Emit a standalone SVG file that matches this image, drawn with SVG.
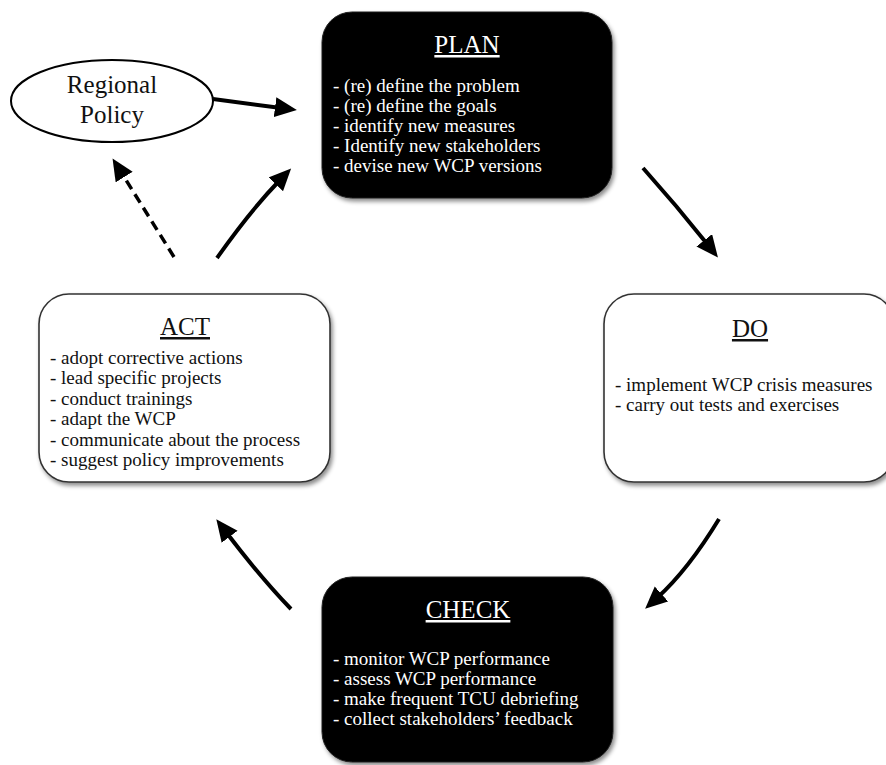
<svg xmlns="http://www.w3.org/2000/svg" width="886" height="765" viewBox="0 0 886 765" font-family="'Liberation Serif', 'Times New Roman', serif">
  <style>
    .title { font-size: 25px; text-anchor: middle; text-decoration: underline; }
    .body { font-size: 19px; }
    .light { fill: #ffffff; }
    .dark { fill: #111111; }
    .box-white { fill: #ffffff; stroke: #333333; stroke-width: 1.6; filter: url(#shadow); }
    .box-black { fill: #000000; stroke: #222222; stroke-width: 1; filter: url(#shadow); }
    .link { fill: none; stroke: #000000; stroke-width: 4; marker-end: url(#head); }
    .dashed { stroke-dasharray: 10 6; stroke-width: 3.5; }
  </style>
  <defs>
    <filter id="shadow" x="-10%" y="-10%" width="125%" height="125%">
      <feDropShadow dx="2" dy="3" stdDeviation="2" flood-color="#000000" flood-opacity="0.45"/>
    </filter>
    <marker id="head" markerUnits="userSpaceOnUse" markerWidth="24" markerHeight="22" refX="6" refY="10" orient="auto">
      <path d="M0,0 L22,10 L0,20 z" fill="#000000"/>
    </marker>
  </defs>

  <!-- connectors -->
  <g id="connectors">
    <path class="link" d="M213,99 L281,108"/>
    <path class="link" d="M217,258 Q250,211 280,180"/>
    <path class="link" d="M643,168 Q677,206 708,245"/>
    <path class="link" d="M719,519 Q688,570 657,598"/>
    <path class="link" d="M291,609 Q261,578 226,532"/>
    <path class="link dashed" d="M174,257 L121,172"/>
  </g>

  <!-- Regional Policy -->
  <g id="regional-policy" font-family="Liberation Serif, serif">
    <ellipse cx="112" cy="101" rx="101" ry="41" fill="#ffffff" stroke="#000000" stroke-width="2"/>
    <text x="112" y="93" font-size="25" text-anchor="middle" class="dark">Regional</text>
    <text x="112" y="123" font-size="25" text-anchor="middle" class="dark">Policy</text>
  </g>

  <!-- PLAN -->
  <g id="plan" font-family="Liberation Serif, serif">
    <rect class="box-black" x="322" y="12" width="290" height="186" rx="30" ry="30"/>
    <text class="title light" x="467" y="53">PLAN</text>
    <text class="body light" x="333" y="92">- (re) define the problem</text>
    <text class="body light" x="333" y="112">- (re) define the goals</text>
    <text class="body light" x="333" y="132">- identify new measures</text>
    <text class="body light" x="333" y="152">- Identify new stakeholders</text>
    <text class="body light" x="333" y="172">- devise new WCP versions</text>
  </g>

  <!-- DO -->
  <g id="do" font-family="Liberation Serif, serif">
    <rect class="box-white" x="604" y="294" width="290" height="188" rx="30" ry="30"/>
    <text class="title dark" x="750" y="337">DO</text>
    <text class="body dark" x="615" y="391">- implement WCP crisis measures</text>
    <text class="body dark" x="615" y="411">- carry out tests and exercises</text>
  </g>

  <!-- CHECK -->
  <g id="check" font-family="Liberation Serif, serif">
    <rect class="box-black" x="322" y="577" width="291" height="185" rx="30" ry="30"/>
    <text class="title light" x="468" y="618">CHECK</text>
    <text class="body light" x="333" y="665">- monitor WCP performance</text>
    <text class="body light" x="333" y="685">- assess WCP performance</text>
    <text class="body light" x="333" y="705">- make frequent TCU debriefing</text>
    <text class="body light" x="333" y="725">- collect stakeholders’ feedback</text>
  </g>

  <!-- ACT -->
  <g id="act" font-family="Liberation Serif, serif">
    <rect class="box-white" x="39" y="294" width="291" height="188" rx="30" ry="30"/>
    <text class="title dark" x="185" y="335">ACT</text>
    <text class="body dark" x="50" y="364">- adopt corrective actions</text>
    <text class="body dark" x="50" y="384">- lead specific projects</text>
    <text class="body dark" x="50" y="405">- conduct trainings</text>
    <text class="body dark" x="50" y="425">- adapt the WCP</text>
    <text class="body dark" x="50" y="446">- communicate about the process</text>
    <text class="body dark" x="50" y="466">- suggest policy improvements</text>
  </g>
</svg>
